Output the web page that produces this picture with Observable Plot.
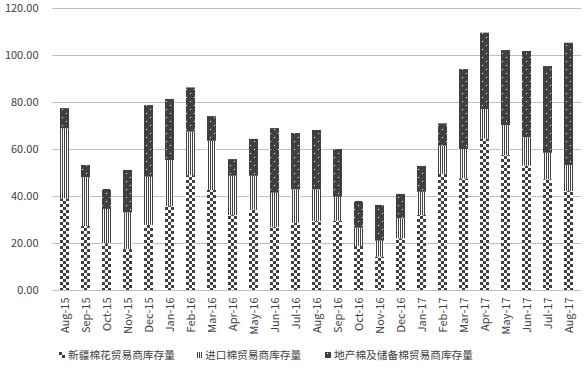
<!DOCTYPE html>
<html>
<head>
<meta charset="utf-8">
<script src="https://cdn.jsdelivr.net/npm/d3@7"></script>
<script src="https://cdn.jsdelivr.net/npm/@observablehq/plot@0.6"></script>
<style>
  html, body { margin: 0; padding: 0; background: #fff; }
  body { width: 584px; height: 370px; overflow: hidden; font-family: "Noto Sans CJK SC", "Noto Sans", sans-serif; }
  #legend { position: relative; height: 27px; font-size: 10.7px; color: #404040; }
  .item { position: absolute; top: 4px; display: flex; align-items: center; white-space: nowrap; }
  .item svg { margin-right: 3px; }
</style>
</head>
<body>
<svg width="0" height="0" style="position:absolute">
  <defs>
    <pattern id="pChecker" patternUnits="userSpaceOnUse" width="6" height="6">
      <rect width="6" height="6" fill="#fff"/>
      <rect x="0" y="0" width="3" height="3" fill="#404040"/>
      <rect x="3" y="3" width="3" height="3" fill="#404040"/>
    </pattern>
    <pattern id="pStripe" patternUnits="userSpaceOnUse" width="2" height="2">
      <rect width="2" height="2" fill="#fff"/>
      <rect x="0" y="0" width="1" height="2" fill="#404040"/>
    </pattern>
    <pattern id="pDots" patternUnits="userSpaceOnUse" width="8" height="8">
      <rect width="8" height="8" fill="#404040"/>
      <rect x="2" y="1" width="1" height="1" fill="#fff"/>
      <rect x="6" y="5" width="1" height="1" fill="#fff"/>
    </pattern>
  </defs>
</svg>
<div id="chart"></div>
<div id="legend"></div>
<script>
const months = ["Aug-15","Sep-15","Oct-15","Nov-15","Dec-15","Jan-16","Feb-16","Mar-16","Apr-16","May-16","Jun-16","Jul-16","Aug-16","Sep-16","Oct-16","Nov-16","Dec-16","Jan-17","Feb-17","Mar-17","Apr-17","May-17","Jun-17","Jul-17","Aug-17"];
const seriesNames = ["新疆棉花贸易商库存量", "进口棉贸易商库存量", "地产棉及储备棉贸易商库存量"];
const xinjiang = [39.0,27.2,19.9,17.4,27.7,35.7,48.9,42.6,31.9,34.3,26.9,28.6,29.4,29.5,18.7,14.2,22.0,31.9,49.4,47.5,64.5,57.4,52.9,47.1,42.1];
const imported = [29.8,20.8,14.6,15.6,20.5,19.6,18.5,20.9,16.7,14.3,14.5,14.2,13.4,10.2,7.8,6.8,8.5,9.9,12.0,12.5,12.5,12.8,12.1,11.3,11.1];
const local = [8.6,5.2,8.5,18.1,30.5,26.0,18.8,10.5,7.1,15.7,27.5,24.0,25.3,20.3,11.4,15.2,10.4,11.0,9.5,34.0,32.5,31.9,36.7,36.9,52.0];
const yTicks = [0,20,40,60,80,100,120];

const fills = ["url(#pChecker)", "url(#pStripe)", "url(#pDots)"];
const seriesValues = [xinjiang, imported, local];
const data = [];
months.forEach((m, i) => {
  seriesNames.forEach((s, k) => data.push({month: m, series: s, value: seriesValues[k][i]}));
});

const chart = Plot.plot({
  width: 584,
  height: 343,
  marginLeft: 52,
  marginRight: 3,
  marginTop: 8,
  marginBottom: 53,
  style: {fontFamily: "'Noto Sans CJK SC', 'Noto Sans', sans-serif", fontSize: "11px", color: "#404040", background: "#fff"},
  x: {domain: months, paddingInner: 0.57, paddingOuter: 0.285, label: null},
  y: {domain: [0, 120], label: null},
  color: {domain: seriesNames, range: fills},
  marks: [
    Plot.gridY(yTicks, {stroke: "#c0c0c0", strokeOpacity: 1}),
    Plot.barY(data, {x: "month", y: "value", fill: "series", order: seriesNames}),
    Plot.axisY({ticks: yTicks, tickFormat: d3.format(".2f"), tickSize: 0, tickPadding: 14, fill: "#404040"}),
    Plot.axisX({tickRotate: -90, tickSize: 0, tickPadding: 7, fill: "#404040"})
  ]
});
document.getElementById("chart").appendChild(chart);

const legend = document.getElementById("legend");
const positions = [59, 197, 325];
const swatches = [
  '<svg width="6" height="6"><rect width="6" height="6" fill="url(#pChecker)"/></svg>',
  '<svg width="5" height="6"><rect width="5" height="6" fill="url(#pStripe)"/></svg>',
  '<svg width="6" height="6"><rect width="6" height="6" fill="url(#pDots)"/></svg>'
];
seriesNames.forEach((s, k) => {
  const d = document.createElement("div");
  d.className = "item";
  d.style.left = positions[k] + "px";
  d.innerHTML = swatches[k] + "<span>" + s + "</span>";
  legend.appendChild(d);
});
</script>
</body>
</html>
